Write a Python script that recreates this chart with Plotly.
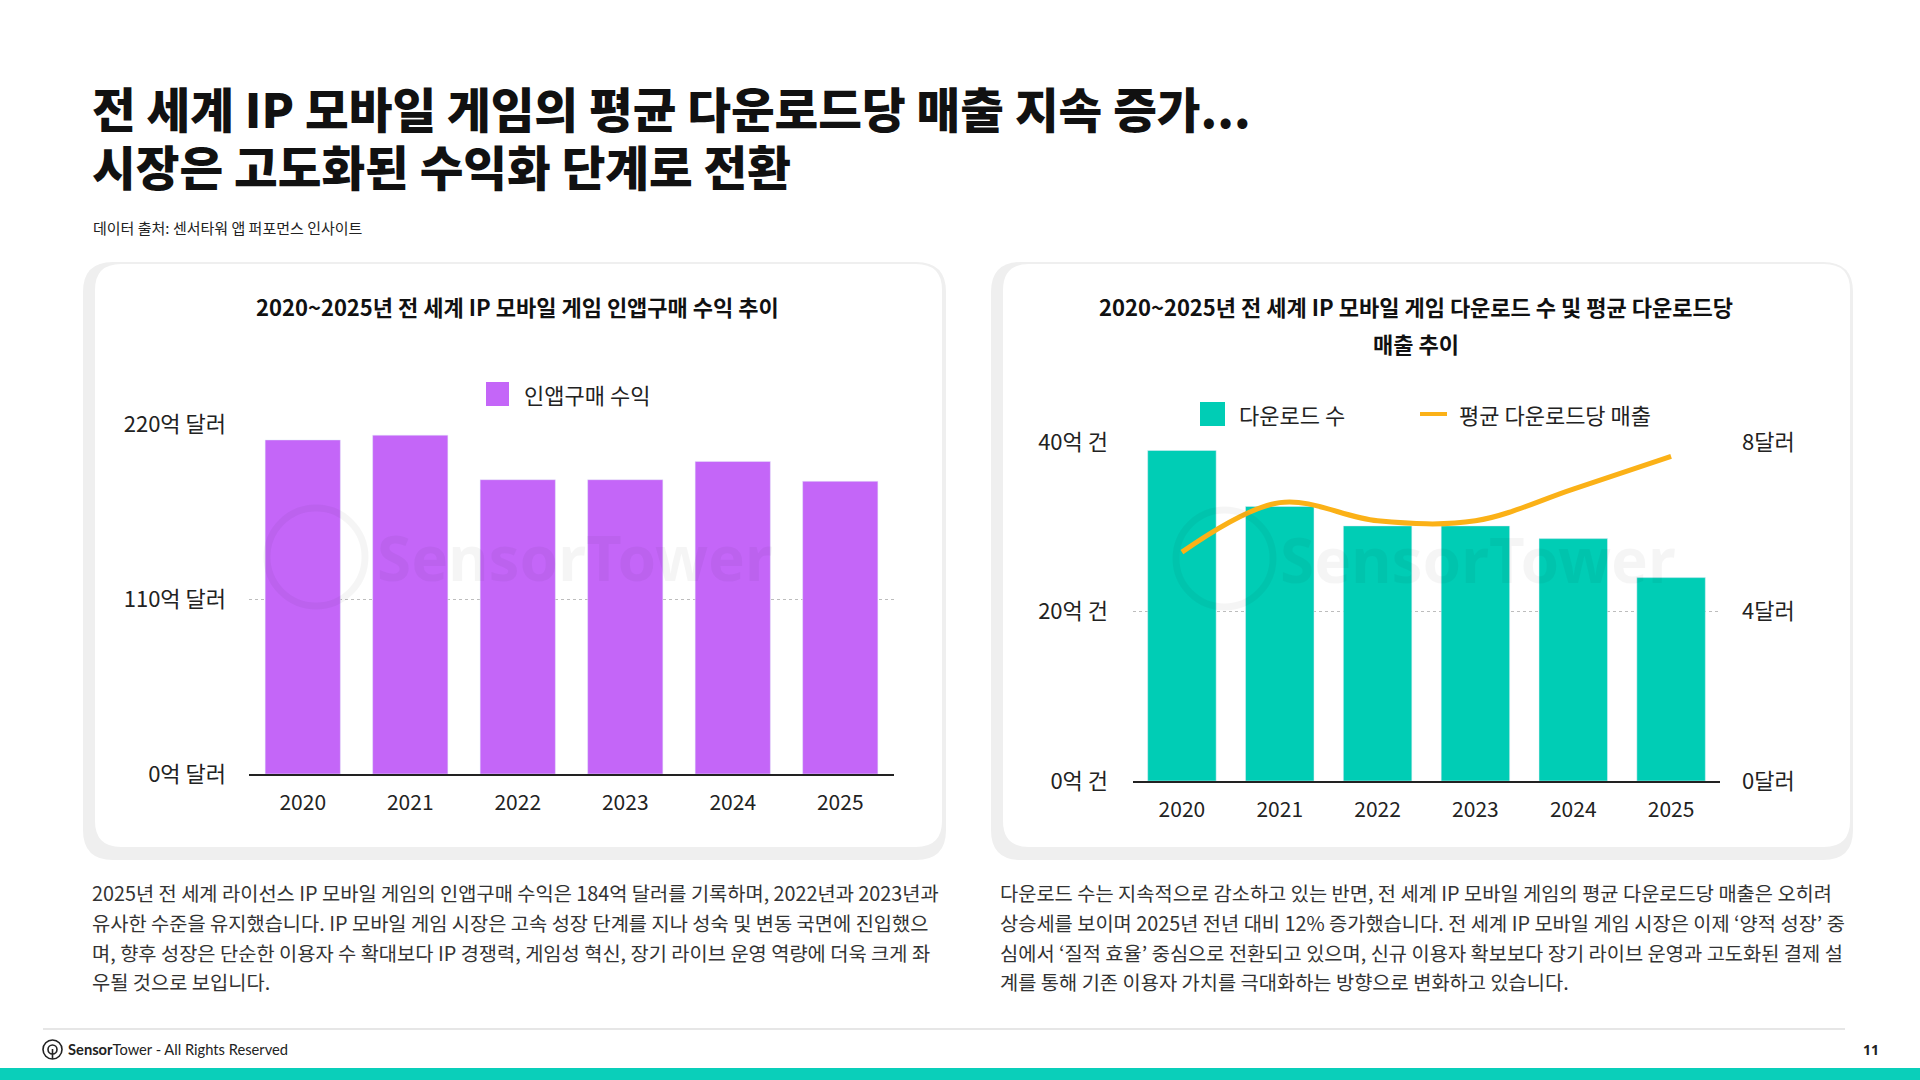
import plotly.graph_objects as go

# ---------------- data ----------------
years = ["2020", "2021", "2022", "2023", "2024", "2025"]
iap_revenue = [210, 213, 185, 185, 196.5, 184]          # 억 달러
downloads = [39.0, 32.4, 30.1, 30.1, 28.6, 24.0]         # 억 건
rev_per_download = [5.40, 6.57, 6.14, 6.14, 6.89, 7.66]  # 달러

left_yticks = [0, 110, 220]
left_yticklabels = ["0억 달러", "110억 달러", "220억 달러"]
right_yticks = [0, 20, 40]
right_yticklabels = ["0억 건", "20억 건", "40억 건"]
right_y2ticks = [0, 4, 8]
right_y2ticklabels = ["0달러", "4달러", "8달러"]

title_lines = ["전 세계 IP 모바일 게임의 평균 다운로드당 매출 지속 증가...",
               "시장은 고도화된 수익화 단계로 전환"]
source_text = "데이터 출처: 센서타워 앱 퍼포먼스 인사이트"
left_title = "2020~2025년 전 세계 IP 모바일 게임 인앱구매 수익 추이"
right_title_lines = ["2020~2025년 전 세계 IP 모바일 게임 다운로드 수 및 평균 다운로드당",
                     "매출 추이"]
left_legend = "인앱구매 수익"
right_legend_bar = "다운로드 수"
right_legend_line = "평균 다운로드당 매출"
left_body = [
    "2025년 전 세계 라이선스 IP 모바일 게임의 인앱구매 수익은 184억 달러를 기록하며, 2022년과 2023년과",
    "유사한 수준을 유지했습니다. IP 모바일 게임 시장은 고속 성장 단계를 지나 성숙 및 변동 국면에 진입했으",
    "며, 향후 성장은 단순한 이용자 수 확대보다 IP 경쟁력, 게임성 혁신, 장기 라이브 운영 역량에 더욱 크게 좌",
    "우될 것으로 보입니다.",
]
right_body = [
    "다운로드 수는 지속적으로 감소하고 있는 반면, 전 세계 IP 모바일 게임의 평균 다운로드당 매출은 오히려",
    "상승세를 보이며 2025년 전년 대비 12% 증가했습니다. 전 세계 IP 모바일 게임 시장은 이제 ‘양적 성장’ 중",
    "심에서 ‘질적 효율’ 중심으로 전환되고 있으며, 신규 이용자 확보보다 장기 라이브 운영과 고도화된 결제 설",
    "계를 통해 기존 이용자 가치를 극대화하는 방향으로 변화하고 있습니다.",
]
footer_text = "<b>Sensor</b>Tower - All Rights Reserved"
page_no = "11"

# ---------------- style ----------------
W, H = 1920, 1080
KR = "Noto Sans CJK KR"
PURPLE = "#C466F8"
TEAL = "#00CDB5"
ORANGE = "#FBB117"
TXT = "#222222"


def X(px):
    return px / W


def Y(py):
    return 1 - py / H


def rrect_path(x0, y0, x1, y1, r):
    def p(x, y):
        return f"{X(x):.5f},{Y(y):.5f}"
    return (f"M {p(x0 + r, y0)} L {p(x1 - r, y0)} Q {p(x1, y0)} {p(x1, y0 + r)} "
            f"L {p(x1, y1 - r)} Q {p(x1, y1)} {p(x1 - r, y1)} "
            f"L {p(x0 + r, y1)} Q {p(x0, y1)} {p(x0, y1 - r)} "
            f"L {p(x0, y0 + r)} Q {p(x0, y0)} {p(x0 + r, y0)} Z")


fig = go.Figure()

fig.add_trace(go.Bar(x=years, y=iap_revenue, marker_color=PURPLE, width=0.7,
                     xaxis="x", yaxis="y", showlegend=False, name=left_legend))
fig.add_trace(go.Bar(x=years, y=downloads, marker_color=TEAL, width=0.7,
                     xaxis="x2", yaxis="y2", showlegend=False, name=right_legend_bar))
fig.add_trace(go.Scatter(x=years, y=rev_per_download, mode="lines",
                         line=dict(color=ORANGE, width=5, shape="spline", smoothing=1.0),
                         xaxis="x2", yaxis="y3", showlegend=False, name=right_legend_line))

shapes = []
for (ox0, ox1, ix0, ix1) in [(83, 946, 95, 942), (991, 1853, 1003, 1850)]:
    shapes.append(dict(type="path", path=rrect_path(ox0, 262, ox1, 860, 30),
                       xref="paper", yref="paper", fillcolor="#EFEFEF",
                       line=dict(width=0), layer="below"))
    shapes.append(dict(type="path", path=rrect_path(ix0, 264, ix1, 847, 26),
                       xref="paper", yref="paper", fillcolor="#FFFFFF",
                       line=dict(width=0), layer="below"))

shapes.append(dict(type="rect", xref="paper", yref="paper", x0=X(486), x1=X(509),
                   y0=Y(406), y1=Y(382), fillcolor=PURPLE, line=dict(width=0)))
shapes.append(dict(type="rect", xref="paper", yref="paper", x0=X(1200), x1=X(1225),
                   y0=Y(426), y1=Y(402), fillcolor=TEAL, line=dict(width=0)))
shapes.append(dict(type="line", xref="paper", yref="paper", x0=X(1420), x1=X(1447),
                   y0=Y(414), y1=Y(414), line=dict(color=ORANGE, width=4)))

for (cx0, cx1, cy0, cy1) in [(267, 365, 508, 606), (1176, 1273, 510, 607)]:
    shapes.append(dict(type="circle", xref="paper", yref="paper", x0=X(cx0), x1=X(cx1),
                       y0=Y(cy1), y1=Y(cy0), line=dict(color="rgba(0,0,0,0.04)", width=7),
                       fillcolor="rgba(0,0,0,0)", layer="above"))

shapes.append(dict(type="line", xref="paper", yref="paper", x0=X(43), x1=X(1845),
                   y0=Y(1029), y1=Y(1029), line=dict(color="#E6E6E6", width=2)))
shapes.append(dict(type="rect", xref="paper", yref="paper", x0=0, x1=1,
                   y0=0, y1=Y(1068), fillcolor="#0ACFBA", line=dict(width=0)))
shapes.append(dict(type="circle", xref="paper", yref="paper", x0=X(43), x1=X(62),
                   y0=Y(1059), y1=Y(1040), line=dict(color="#222", width=1.6)))
shapes.append(dict(type="circle", xref="paper", yref="paper", x0=X(48), x1=X(57),
                   y0=Y(1054), y1=Y(1045), line=dict(color="#222", width=1.6)))
shapes.append(dict(type="line", xref="paper", yref="paper", x0=X(52.5), x1=X(52.5),
                   y0=Y(1059), y1=Y(1049), line=dict(color="#222", width=1.6)))

ann = []
ann.append(dict(text=title_lines[0], x=X(90), y=Y(107), xanchor="left", yanchor="middle",
                font=dict(family=KR, size=47.5, color="#111", weight=900)))
ann.append(dict(text=title_lines[1], x=X(90), y=Y(166), xanchor="left", yanchor="middle",
                font=dict(family=KR, size=47.5, color="#111", weight=900)))
ann.append(dict(text=source_text, x=X(91), y=Y(227), xanchor="left", yanchor="middle",
                font=dict(family=KR, size=15, color="#222")))
ann.append(dict(text=f"<b>{left_title}</b>", x=X(517), y=Y(306), xanchor="center", yanchor="middle",
                font=dict(family=KR, size=22, color="#111")))
ann.append(dict(text=f"<b>{right_title_lines[0]}</b>", x=X(1416), y=Y(306), xanchor="center",
                yanchor="middle", font=dict(family=KR, size=22, color="#111")))
ann.append(dict(text=f"<b>{right_title_lines[1]}</b>", x=X(1416), y=Y(343), xanchor="center",
                yanchor="middle", font=dict(family=KR, size=22, color="#111")))
ann.append(dict(text=left_legend, x=X(522), y=Y(394), xanchor="left", yanchor="middle",
                font=dict(family=KR, size=22, color=TXT)))
ann.append(dict(text=right_legend_bar, x=X(1237), y=Y(414), xanchor="left", yanchor="middle",
                font=dict(family=KR, size=22, color=TXT)))
ann.append(dict(text=right_legend_line, x=X(1457), y=Y(414), xanchor="left", yanchor="middle",
                font=dict(family=KR, size=22, color=TXT)))
ann.append(dict(text="<b>SensorTower</b>", x=X(575), y=Y(557), xanchor="center", yanchor="middle",
                font=dict(family="Noto Sans", size=62, color="rgba(0,0,0,0.04)")))
ann.append(dict(text="<b>SensorTower</b>", x=X(1478), y=Y(559), xanchor="center", yanchor="middle",
                font=dict(family="Noto Sans", size=62, color="rgba(0,0,0,0.04)")))

line_y = [892, 922, 952, 981]
for i, t in enumerate(left_body):
    ann.append(dict(text=t, x=X(90), y=Y(line_y[i]), xanchor="left", yanchor="middle",
                    font=dict(family=KR, size=19.8, color="#333")))
for i, t in enumerate(right_body):
    ann.append(dict(text=t, x=X(998), y=Y(line_y[i]), xanchor="left", yanchor="middle",
                    font=dict(family=KR, size=19.8, color="#333")))

ann.append(dict(text=footer_text, x=X(66), y=Y(1049), xanchor="left", yanchor="middle",
                font=dict(family="Lato", size=14.7, color="#222")))
ann.append(dict(text=f"<b>{page_no}</b>", x=X(1871), y=Y(1049), xanchor="center", yanchor="middle",
                font=dict(family="Noto Sans", size=14, color="#222")))

for a in ann:
    a.update(xref="paper", yref="paper", showarrow=False)

axis_common = dict(showgrid=False, zeroline=False, ticks="", fixedrange=True, automargin=False)
grid_axis = dict(showgrid=True, gridcolor="#BDBDBD", griddash="dot", gridwidth=1,
                 zeroline=False, ticks="", fixedrange=True, automargin=False)

fig.update_layout(
    width=W, height=H, autosize=False,
    margin=dict(l=0, r=0, t=0, b=0, pad=0, autoexpand=False),
    paper_bgcolor="white", plot_bgcolor="rgba(0,0,0,0)",
    bargap=0.3, showlegend=False,
    shapes=shapes, annotations=ann,
    font=dict(family=KR, color=TXT),
    xaxis=dict(domain=[X(249), X(894)], anchor="y", type="category",
               showline=True, linecolor="#222", linewidth=1.5,
               tickfont=dict(family=KR, size=21, color=TXT), ticklabelstandoff=9,
               **axis_common),
    yaxis=dict(domain=[Y(774), Y(424)], anchor="x", range=[0, 220],
               tickvals=left_yticks, ticktext=left_yticklabels,
               tickfont=dict(family=KR, size=22, color=TXT), ticklabelstandoff=22,
               **grid_axis),
    xaxis2=dict(domain=[X(1133), X(1720)], anchor="y2", type="category",
                showline=True, linecolor="#222", linewidth=1.5,
                tickfont=dict(family=KR, size=21, color=TXT), ticklabelstandoff=9,
                **axis_common),
    yaxis2=dict(domain=[Y(781), Y(442)], anchor="x2", range=[0, 40],
                tickvals=right_yticks, ticktext=right_yticklabels,
                tickfont=dict(family=KR, size=22, color=TXT), ticklabelstandoff=24,
                **grid_axis),
    yaxis3=dict(overlaying="y2", anchor="x2", side="right", range=[0, 8],
                tickvals=right_y2ticks, ticktext=right_y2ticklabels,
                tickfont=dict(family=KR, size=22, color=TXT), ticklabelstandoff=21,
                **axis_common),
)

fig.write_html("out.html")
